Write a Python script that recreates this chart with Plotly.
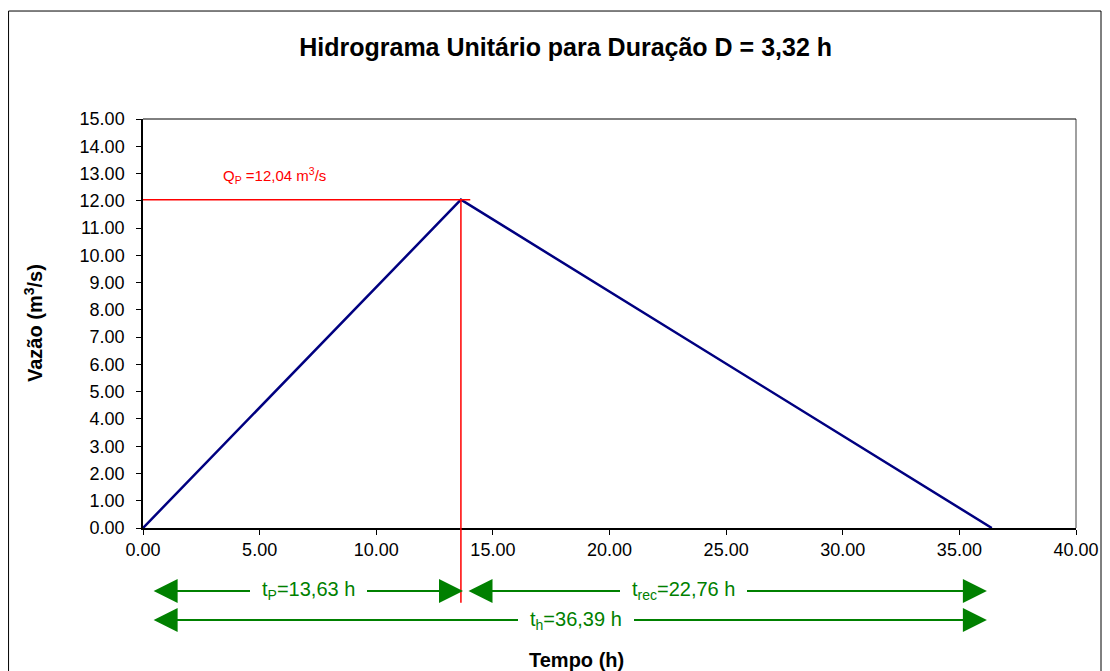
import plotly.graph_objects as go

# Data
tempo = [0.0, 13.63, 36.39]
vazao = [0.0, 12.04, 0.0]
qp = 12.04
tp = 13.63
th = 36.39
x_ticks = [0, 5, 10, 15, 20, 25, 30, 35, 40]
y_ticks = list(range(0, 16))

GREEN = "#008000"
FONT = "Liberation Sans, Arial, sans-serif"

fig = go.Figure()
fig.add_trace(go.Scatter(x=tempo, y=vazao, mode="lines",
                         line=dict(color="#000080", width=2.5),
                         showlegend=False, hoverinfo="skip"))
# red horizontal line at Qp
fig.add_trace(go.Scatter(x=[0, tp + 0.4], y=[qp, qp], mode="lines",
                         line=dict(color="#ff0000", width=1.5),
                         showlegend=False, hoverinfo="skip"))

annotations = []
# red vertical line from peak down below axis
annotations.append(dict(x=tp, y=qp, xref="x", yref="y", ax=tp, ay=-2.8,
                        axref="x", ayref="y", showarrow=True, arrowhead=0,
                        arrowwidth=1.5, arrowcolor="#ff0000", text=""))
annotations.append(dict(x=5.64, y=12.94, xref="x", yref="y", showarrow=False,
                        xanchor="center", yanchor="middle",
                        text="Q<sub>P</sub> =12,04 m<sup>3</sup>/s",
                        font=dict(color="#ff0000", size=15, family=FONT)))

def darrow(x0, x1, yp, text, xt):
    annotations.append(dict(x=x1, y=yp, xref="x", yref="paper", ax=x0, ay=0,
                            axref="x", ayref="pixel", showarrow=True,
                            arrowhead=2, startarrowhead=2, arrowside="end+start",
                            arrowsize=2.4, startarrowsize=2.4, arrowwidth=2,
                            arrowcolor=GREEN, text=""))
    annotations.append(dict(x=xt, y=yp, xref="x", yref="paper", showarrow=False,
                            xanchor="center", yanchor="middle",
                            text=text, bgcolor="white", borderpad=0,
                            bordercolor="white", borderwidth=12,
                            font=dict(color=GREEN, size=20, family=FONT)))

darrow(0.39, 13.72, -0.154, "t<sub>P</sub>=13,63 h", 7.09)
darrow(13.89, 36.18, -0.154, "t<sub>rec</sub>=22,76 h", 23.17)
darrow(0.39, 36.18, -0.225, "t<sub>h</sub>=36,39 h", 18.58)

annotations.append(dict(x=0.465, y=-0.323, xref="paper", yref="paper",
                        showarrow=False, text="<b>Tempo (h)</b>",
                        xanchor="center", yanchor="middle",
                        font=dict(size=20, color="black", family=FONT)))
annotations.append(dict(x=-0.118, y=0.501, xref="paper", yref="paper",
                        showarrow=False, text="<b>Vazão (m<sup>3</sup>/s)</b>",
                        xanchor="center", yanchor="middle", textangle=-90,
                        font=dict(size=20, color="black", family=FONT)))

shapes = [
    dict(type="rect", xref="paper", yref="paper", x0=-0.1441, x1=1.0268,
         y0=-0.40, y1=1.264, line=dict(color="black", width=1)),
    dict(type="line", xref="paper", yref="paper", x0=1, x1=1, y0=0, y1=1,
         line=dict(color="#808080", width=1.5)),
    dict(type="line", xref="paper", yref="paper", x0=0, x1=1, y0=1, y1=1,
         line=dict(color="black", width=1)),
]

fig.update_layout(
    width=1102, height=663,
    margin=dict(l=135, r=34, t=111, b=143),
    paper_bgcolor="white", plot_bgcolor="white",
    font=dict(family=FONT, color="black", size=18),
    title=dict(text="<b>Hidrograma Unitário para Duração D = 3,32 h</b>",
               x=0.506, xref="container", y=0.941, yref="container",
               xanchor="center", yanchor="middle",
               font=dict(size=25, family=FONT, color="black")),
    annotations=annotations,
    shapes=shapes,
    showlegend=False,
)
fig.update_xaxes(range=[0, 40], tickvals=x_ticks,
                 ticktext=[f"{v:.2f}" for v in x_ticks],
                 showgrid=False, zeroline=False, showline=True,
                 linecolor="black", linewidth=1.5, ticks="outside",
                 ticklen=5, tickcolor="black", tickfont=dict(size=18))
fig.update_yaxes(range=[0, 15], tickvals=y_ticks,
                 ticktext=[f"{v:.2f}" for v in y_ticks],
                 showgrid=False, zeroline=False, showline=True,
                 linecolor="black", linewidth=1.5, ticks="outside",
                 ticklen=5, tickcolor="black", tickfont=dict(size=18),
                 ticklabelstandoff=8)

fig.write_html("out.html")
